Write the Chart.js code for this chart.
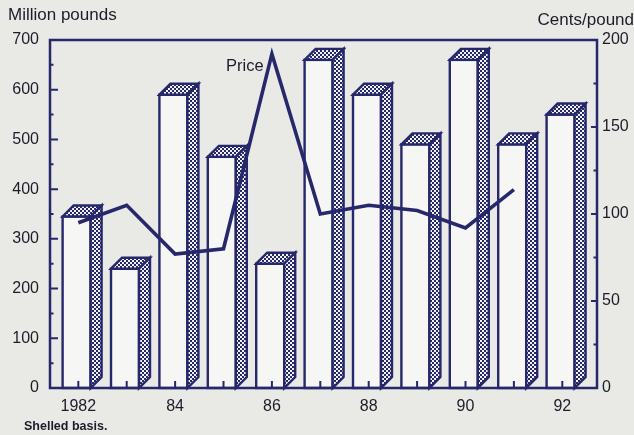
<!DOCTYPE html>
<html>
<head>
<meta charset="utf-8">
<script src="https://cdn.jsdelivr.net/npm/chart.js@4"></script>
<style>
  html, body { margin: 0; padding: 0; background: #e9e9e5; }
  canvas { display: block; }
</style>
</head>
<body>
<canvas id="c" width="634" height="435"></canvas>
<script>
// Peanut supply (million pounds, shelled basis) and price (cents/pound)
const years = [1982, 1983, 1984, 1985, 1986, 1987, 1988, 1989, 1990, 1991, 1992];
const supply = [345, 240, 590, 465, 250, 660, 590, 490, 660, 490, 550];
const price = [95, 105, 77, 80, 192, 100, 105, 102, 92, 114, null];
const poundTicks = [0, 100, 200, 300, 400, 500, 600, 700];
const centTicks = [0, 50, 100, 150, 200];

const NAVY = '#26286b';
const INK = '#1c1c2a';
const BG = '#e9e9e5';
const FONT = '"Liberation Sans", Arial, sans-serif';

// checkered fill used on the bar tops and sides
function makeHatch() {
  const t = document.createElement('canvas');
  t.width = 4; t.height = 4;
  const g = t.getContext('2d');
  g.fillStyle = NAVY;
  g.fillRect(0, 0, 4, 4);
  g.fillStyle = '#f2f2f0';
  g.fillRect(0, 0, 2, 2);
  g.fillRect(2, 2, 2, 2);
  return g.createPattern(t, 'repeat');
}

const ctx0 = document.getElementById('c').getContext('2d');
const hatch = makeHatch();

const FRONT_W = 28;   // width of a bar's front face
const SHIFT = -1.7;   // front face centre relative to its year
const DEPTH = 11;     // 3-D extrusion, up and to the right

const framePlugin = {
  id: 'frame',
  beforeDraw(chart) {
    const c = chart.ctx;
    c.save();
    c.fillStyle = BG;
    c.fillRect(0, 0, chart.width, chart.height);
    c.restore();
  },
  afterDatasetDraw(chart, args) {
    if (args.index !== 1) return;
    const c = chart.ctx;
    const meta = args.meta;
    c.save();
    c.lineJoin = 'miter';
    c.lineWidth = 2.4;
    c.strokeStyle = NAVY;
    meta.data.forEach((el) => {
      const L = el.x + SHIFT - FRONT_W / 2;
      const R = L + FRONT_W;
      const T = el.y;
      const B = el.base;
      // front face
      c.fillStyle = '#f6f6f4';
      c.fillRect(L, T, FRONT_W, B - T);
      c.strokeRect(L, T, FRONT_W, B - T);
      // top face
      c.beginPath();
      c.moveTo(L, T);
      c.lineTo(L + DEPTH, T - DEPTH);
      c.lineTo(R + DEPTH, T - DEPTH);
      c.lineTo(R, T);
      c.closePath();
      c.fillStyle = hatch;
      c.fill();
      c.stroke();
      // side face
      c.beginPath();
      c.moveTo(R, T);
      c.lineTo(R + DEPTH, T - DEPTH);
      c.lineTo(R + DEPTH, B - DEPTH);
      c.lineTo(R, B);
      c.closePath();
      c.fill();
      c.stroke();
    });
    c.restore();
  },
  afterDraw(chart) {
    const c = chart.ctx;
    const a = chart.chartArea;
    const sx = chart.scales.x, sy = chart.scales.y, sy2 = chart.scales.y2;
    c.save();
    c.strokeStyle = NAVY;
    c.lineWidth = 2.5;
    c.strokeRect(a.left, a.top, a.right - a.left, a.bottom - a.top);
    c.lineWidth = 2;
    c.beginPath();
    // left axis: long marks every 100, short every 50
    for (let v = 50; v < 700; v += 50) {
      const y = sy.getPixelForValue(v);
      c.moveTo(a.left, y);
      c.lineTo(a.left + (v % 100 === 0 ? 8 : 3.5), y);
    }
    // right axis: long marks every 50, short every 25
    for (let v = 25; v < 200; v += 25) {
      const y = sy2.getPixelForValue(v);
      c.moveTo(a.right, y);
      c.lineTo(a.right - (v % 50 === 0 ? 6 : 3.5), y);
    }
    // year marks along the base
    years.forEach((yr) => {
      const x = sx.getPixelForValue(yr);
      c.moveTo(x, a.bottom);
      c.lineTo(x, a.bottom - 7);
    });
    c.stroke();

    c.fillStyle = INK;
    c.textBaseline = 'middle';
    c.font = '17px ' + FONT;
    c.textAlign = 'left';
    c.fillText('Million pounds', 8, 15);
    c.textAlign = 'right';
    c.fillText('Cents/pound', 634, 20);
    c.textAlign = 'left';
    c.font = '16.5px ' + FONT;
    c.fillText('Price', 226, 66);
    c.font = 'bold 12.5px ' + FONT;
    c.fillText('Shelled basis.', 24, 427);
    c.restore();
  }
};

new Chart(ctx0, {
  data: {
    datasets: [
      {
        type: 'line',
        label: 'Price',
        data: years.map((x, i) => ({ x, y: price[i] })),
        yAxisID: 'y2',
        borderColor: NAVY,
        borderWidth: 3.6,
        pointRadius: 0,
        tension: 0,
        spanGaps: false,
        order: 0
      },
      {
        type: 'bar',
        label: 'Supply',
        data: years.map((x, i) => ({ x, y: supply[i] })),
        yAxisID: 'y',
        backgroundColor: 'rgba(0,0,0,0)',
        borderWidth: 0,
        barThickness: FRONT_W,
        order: 1
      }
    ]
  },
  options: {
    responsive: false,
    animation: false,
    events: [],
    layout: { padding: { top: 40, left: 0, right: 0, bottom: 0 } },
    plugins: { legend: { display: false }, tooltip: { enabled: false } },
    scales: {
      x: {
        type: 'linear',
        offset: false,
        min: 1981.415,
        max: 1992.717,
        grid: { display: false, drawTicks: false, offset: false },
        border: { display: false },
        afterBuildTicks(s) { s.ticks = years.filter((y) => y % 2 === 0).map((v) => ({ value: v })); },
        ticks: {
          autoSkip: false,
          maxRotation: 0,
          padding: 9,
          color: INK,
          font: { family: FONT, size: 16 },
          callback: (v) => (v === years[0] ? String(v) : String(v).slice(2))
        },
        afterFit(s) { s.height = 47; }
      },
      y: {
        position: 'left',
        min: 0,
        max: 700,
        grid: { display: false, drawTicks: false },
        border: { display: false },
        afterBuildTicks(s) { s.ticks = poundTicks.map((v) => ({ value: v })); },
        ticks: { padding: 11, color: INK, font: { family: FONT, size: 16 } },
        afterFit(s) { s.width = 50; }
      },
      y2: {
        position: 'right',
        min: 0,
        max: 200,
        grid: { display: false, drawTicks: false },
        border: { display: false },
        afterBuildTicks(s) { s.ticks = centTicks.map((v) => ({ value: v })); },
        ticks: { padding: 5, color: INK, font: { family: FONT, size: 16 } },
        afterFit(s) { s.width = 37; }
      }
    }
  },
  plugins: [framePlugin]
});
</script>
</body>
</html>
